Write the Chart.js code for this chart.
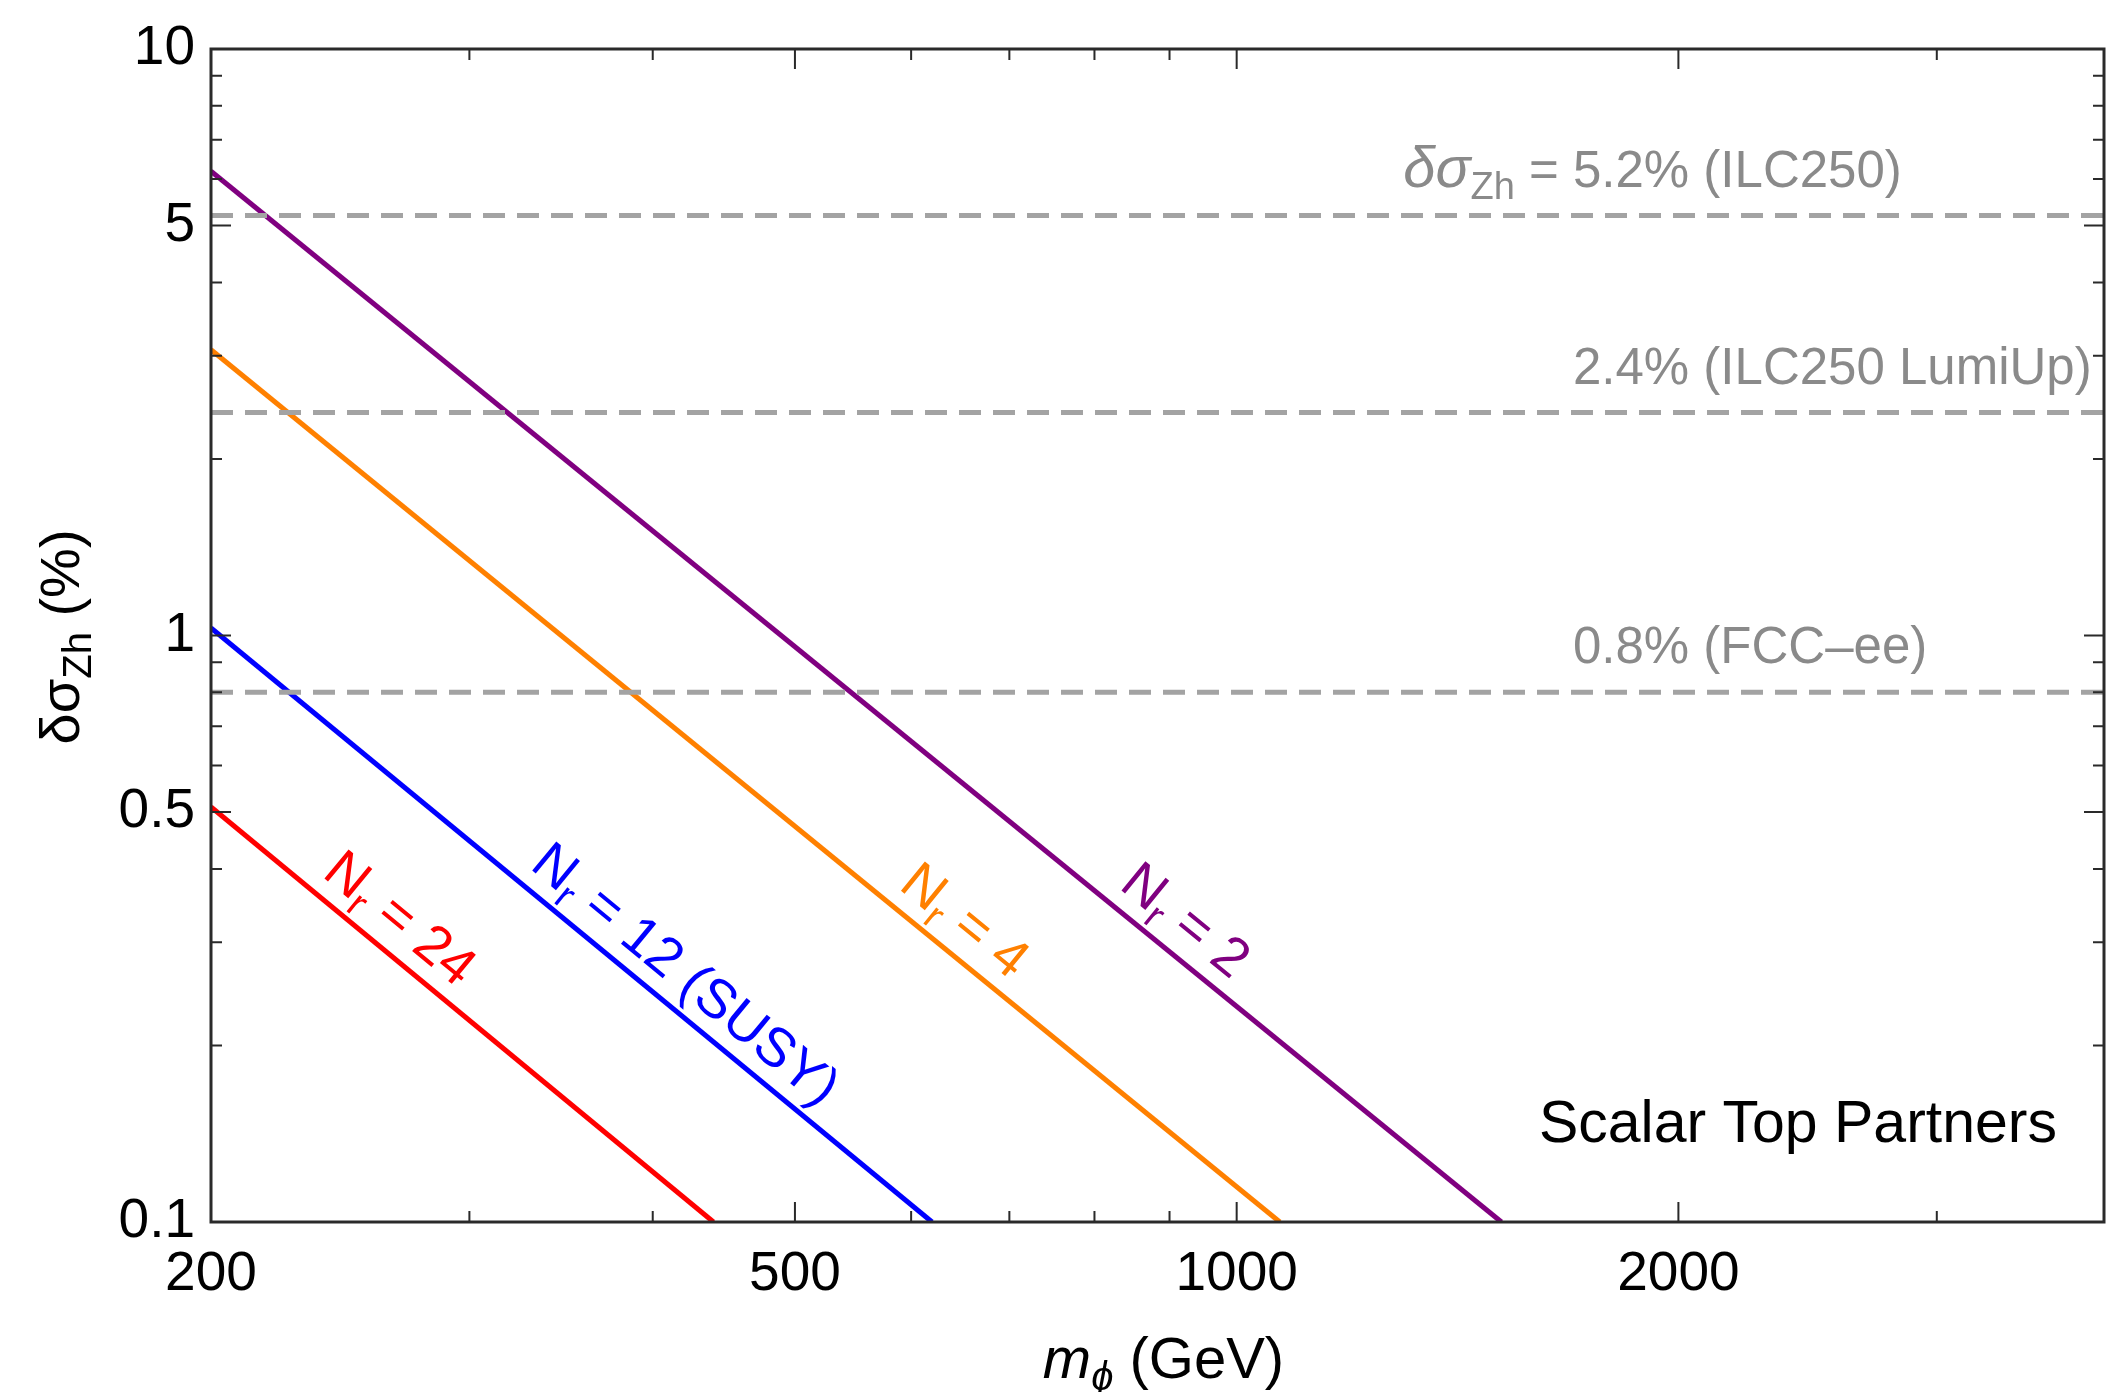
<!DOCTYPE html>
<html><head><meta charset="utf-8">
<script src="https://cdn.jsdelivr.net/npm/chart.js@4.4.0/dist/chart.umd.min.js"></script>
<style>html,body{margin:0;padding:0;background:#fff;overflow:hidden}</style>
</head><body>
<canvas id="c" width="2111" height="1392"></canvas>
<script>
// ---- data ----
const seriesNr = ['2', '4', '12 (SUSY)', '24'];
const startMass = [200, 200, 200, 200];          // GeV, left edge of plot
const startValue = [6.19, 3.07, 1.03, 0.51];     // delta sigma_Zh (%) at 200 GeV
const endMass = [1515, 1070, 620, 440];          // GeV where each line reaches 0.1 %
const endValue = [0.1, 0.1, 0.1, 0.1];
const labelMass = [892, 631, 407, 260];          // where each rotated label sits along its line
const referenceLevels = [5.2, 2.4, 0.8];         // %
const referenceTexts = ['5.2% (ILC250)', '2.4% (ILC250 LumiUp)', '0.8% (FCC\u2013ee)'];
const referenceTextMass = 1695;
const xRange = [200, 3900];
const yRange = [0.1, 10];
const xMajorTicks = [200, 500, 1000, 2000];
const xTickLabels = ['200', '500', '1000', '2000'];
const xMinorTicks = [300, 400, 600, 700, 800, 900, 3000];
const yMajorTicks = [0.1, 0.5, 1, 5, 10];
const yTickLabels = ['0.1', '0.5', '1', '5', '10'];
const yMinorTicks = [0.2, 0.3, 0.4, 0.6, 0.7, 0.8, 0.9, 2, 3, 4, 6, 7, 8, 9];

// ---- styles ----
const FF = '"Liberation Sans", Arial, Helvetica, sans-serif';
const lineColors = ['#800080', '#ff8000', '#0000ff', '#ff0000'];
const dashColor = '#a3a3a3';
const grayText = '#8a8a8a';

const datasets = [];
referenceLevels.forEach((lv) => {
  datasets.push({
    data: [{x: xRange[0], y: lv}, {x: xRange[1], y: lv}],
    borderColor: dashColor, borderWidth: 5, borderDash: [22, 12],
    pointRadius: 0, showLine: true, fill: false
  });
});
seriesNr.forEach((n, i) => {
  datasets.push({
    data: [{x: startMass[i], y: startValue[i]}, {x: endMass[i], y: endValue[i]}],
    borderColor: lineColors[i], borderWidth: 5,
    pointRadius: 0, showLine: true, fill: false
  });
});

function richWidth(ctx, parts) {
  let w = 0;
  for (const p of parts) { ctx.font = p.font; w += ctx.measureText(p.t).width; }
  return w;
}
function drawRich(ctx, parts, x, y, align) {
  const w = richWidth(ctx, parts);
  let cx = align === 'center' ? x - w / 2 : align === 'right' ? x - w : x;
  ctx.textAlign = 'left';
  ctx.textBaseline = 'alphabetic';
  for (const p of parts) {
    ctx.font = p.font;
    ctx.fillText(p.t, cx, y + (p.dy || 0));
    cx += ctx.measureText(p.t).width;
  }
}

const decor = {
  id: 'decor',
  afterDatasetsDraw(chart) {
    const ctx = chart.ctx;
    const xs = chart.scales.x, ys = chart.scales.y;
    const a = chart.chartArea;
    ctx.save();
    // frame
    ctx.strokeStyle = '#2a2a2a';
    ctx.lineWidth = 3;
    ctx.strokeRect(a.left, a.top, a.right - a.left, a.bottom - a.top);
    // ticks (inward, mirrored)
    ctx.lineWidth = 2;
    const tick = (v, len, axis) => {
      if (axis === 'x') {
        const p = xs.getPixelForValue(v);
        if (p <= a.left + 2 || p >= a.right - 2) return;
        ctx.beginPath();
        ctx.moveTo(p, a.bottom); ctx.lineTo(p, a.bottom - len);
        ctx.moveTo(p, a.top); ctx.lineTo(p, a.top + len);
        ctx.stroke();
      } else {
        const p = ys.getPixelForValue(v);
        if (p <= a.top + 2 || p >= a.bottom - 2) return;
        ctx.beginPath();
        ctx.moveTo(a.left, p); ctx.lineTo(a.left + len, p);
        ctx.moveTo(a.right, p); ctx.lineTo(a.right - len, p);
        ctx.stroke();
      }
    };
    xMajorTicks.forEach(v => tick(v, 20, 'x'));
    xMinorTicks.forEach(v => tick(v, 11, 'x'));
    yMajorTicks.forEach(v => tick(v, 20, 'y'));
    yMinorTicks.forEach(v => tick(v, 11, 'y'));

    // reference level labels
    ctx.fillStyle = grayText;
    const rx = xs.getPixelForValue(referenceTextMass);
    referenceLevels.forEach((lv, i) => {
      const py = ys.getPixelForValue(lv) - 29;
      drawRich(ctx, [{t: referenceTexts[i], font: '51px ' + FF}], rx, py, 'left');
      if (i === 0) {
        drawRich(ctx, [
          {t: '\u03b4\u03c3', font: 'italic 58px ' + FF},
          {t: 'Zh', font: '38px ' + FF, dy: 12},
          {t: ' = ', font: '51px ' + FF}
        ], rx, py, 'right');
      }
    });

    // rotated line labels
    const lineMetas = seriesNr.map((n, i) => chart.getDatasetMeta(referenceLevels.length + i));
    seriesNr.forEach((n, i) => {
      const pts = lineMetas[i].data;
      const p0 = pts[0], p1 = pts[1];
      const ang = Math.atan2(p1.y - p0.y, p1.x - p0.x);
      const px = xs.getPixelForValue(labelMass[i]);
      const t = (px - p0.x) / (p1.x - p0.x);
      const py = p0.y + t * (p1.y - p0.y);
      const off = 17;
      const cx = px + off * Math.sin(ang);
      const cy = py - off * Math.cos(ang);
      ctx.save();
      ctx.translate(cx, cy);
      ctx.rotate(ang);
      ctx.fillStyle = lineColors[i];
      drawRich(ctx, [
        {t: 'N', font: '55px ' + FF},
        {t: 'r', font: '39px ' + FF, dy: 11},
        {t: ' = ' + n, font: '55px ' + FF}
      ], 0, 0, 'center');
      ctx.restore();
    });

    // panel text
    ctx.fillStyle = '#000';
    drawRich(ctx, [{t: 'Scalar Top Partners', font: '59px ' + FF}], a.right - 47, a.bottom - 80, 'right');

    // x axis title
    drawRich(ctx, [
      {t: 'm', font: 'italic 58px ' + FF},
      {t: '\u03d5', font: 'italic 40px ' + FF, dy: 12},
      {t: ' (GeV)', font: '58px ' + FF}
    ], (a.left + a.right) / 2 + 6, 1378, 'center');

    // y axis title
    ctx.save();
    ctx.translate(79, 637);
    ctx.rotate(-Math.PI / 2);
    drawRich(ctx, [
      {t: '\u03b4\u03c3', font: '56px ' + FF},
      {t: 'Zh', font: '40px ' + FF, dy: 12},
      {t: ' (%)', font: '56px ' + FF}
    ], 0, 0, 'center');
    ctx.restore();
    ctx.restore();
  }
};

new Chart(document.getElementById('c'), {
  type: 'scatter',
  data: {datasets},
  options: {
    responsive: false,
    animation: false,
    devicePixelRatio: 1,
    layout: {padding: {top: 42, right: 7, left: 0, bottom: 0}},
    plugins: {legend: {display: false}, tooltip: {enabled: false}},
    elements: {line: {tension: 0}},
    scales: {
      x: {
        type: 'logarithmic', min: xRange[0], max: xRange[1],
        grid: {display: false, drawTicks: false},
        border: {display: false},
        afterBuildTicks: (s) => { s.ticks = xMajorTicks.map(v => ({value: v})); },
        afterFit: (s) => { s.height = 170; },
        ticks: {
          autoSkip: false, maxRotation: 0, padding: 20,
          color: '#000', font: {family: FF, size: 55},
          callback: (v, i) => xTickLabels[i]
        }
      },
      y: {
        type: 'logarithmic', min: yRange[0], max: yRange[1],
        grid: {display: false, drawTicks: false},
        border: {display: false},
        afterBuildTicks: (s) => { s.ticks = yMajorTicks.map(v => ({value: v})); },
        afterFit: (s) => { s.width = 211; },
        ticks: {
          autoSkip: false, padding: 16,
          color: '#000', font: {family: FF, size: 55},
          callback: (v, i) => yTickLabels[i]
        }
      }
    }
  },
  plugins: [decor]
});
</script>
</body></html>
